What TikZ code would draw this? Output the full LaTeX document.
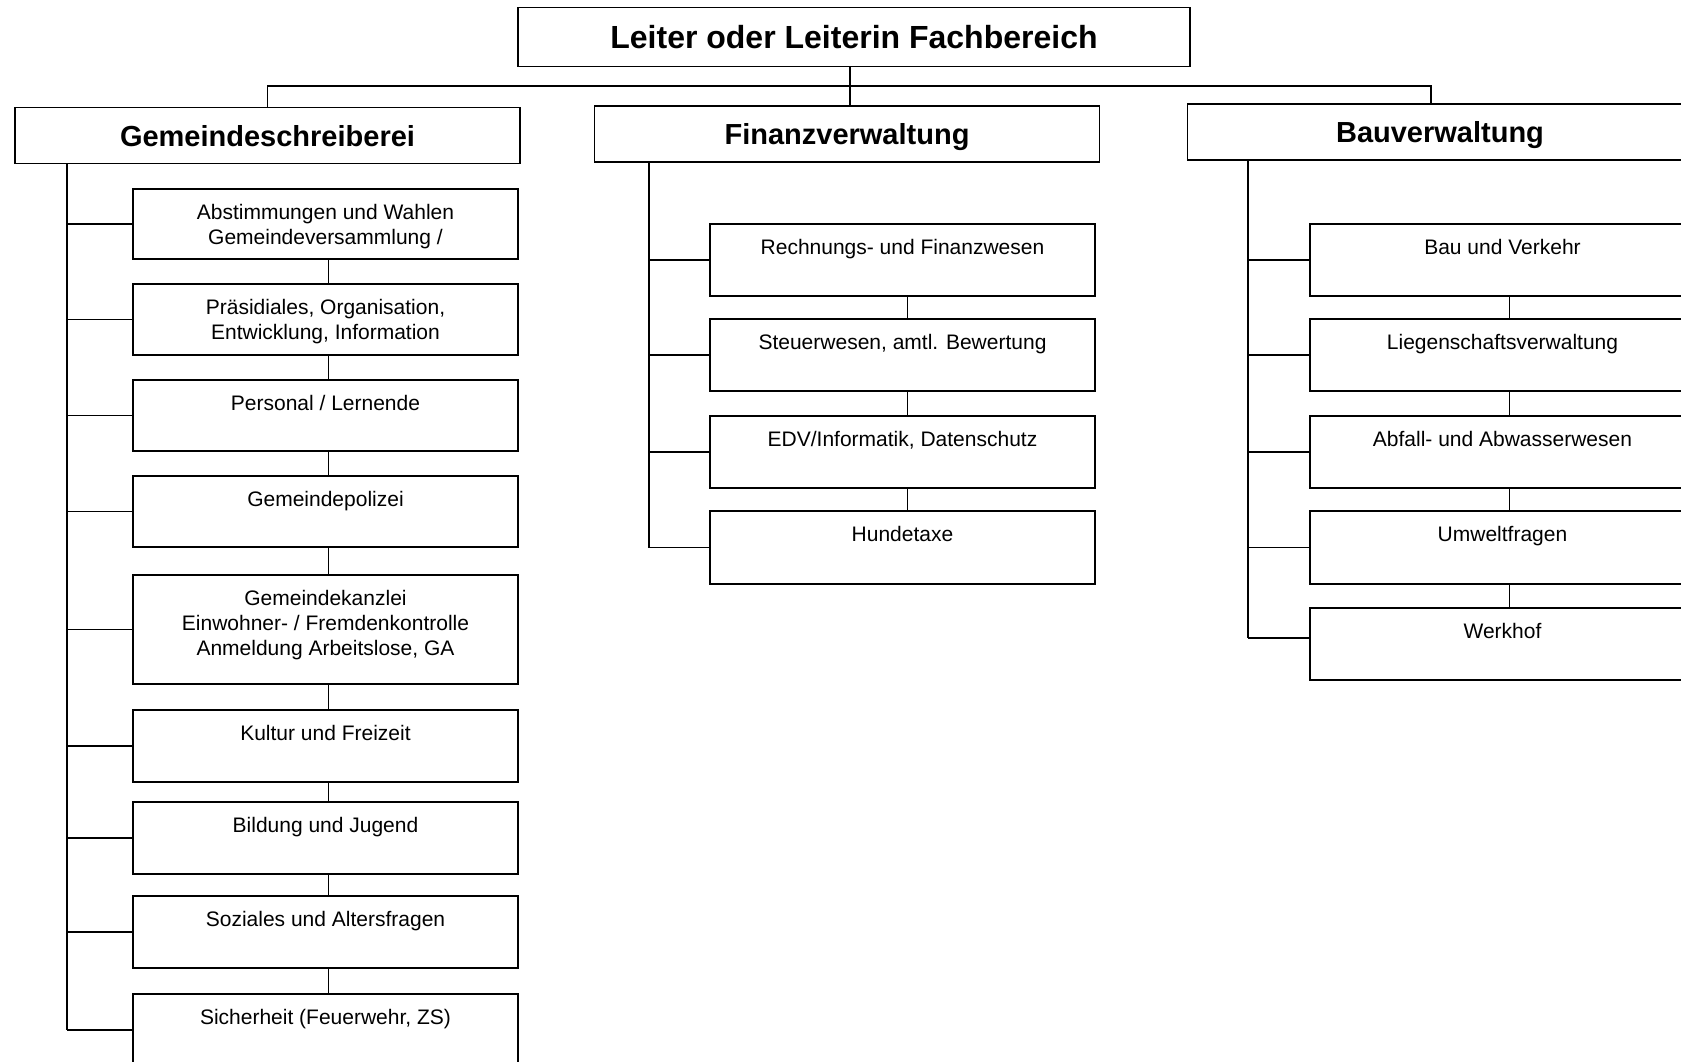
\documentclass[tikz,border=0pt]{standalone}
\usepackage{fontspec}
\setmainfont{Liberation Sans}
\tikzset{
  topbox/.style={draw, inner sep=0pt, minimum width=672pt, minimum height=59pt, font=\fontsize{32}{38}\selectfont\bfseries},
  hdbox/.style={draw, inner sep=0pt, minimum width=505pt, minimum height=56pt, text height=21pt, text depth=0pt, font=\fontsize{29}{34}\selectfont\bfseries},
  subbox/.style={draw, inner sep=0pt, minimum width=385pt},
  subtext/.style={anchor=north, inner sep=0pt, align=center, font=\fontsize{21}{25}\selectfont},
  conn/.style={draw}
}
\newcommand\orgsub[5]{%
  \node[subbox, minimum height=#4] (#1) at (#2,{#3+#4/2}) {};
  \node[subtext] (#1t) at ([yshift=-15pt]#1.north) {#5};}
\begin{document}
\begin{tikzpicture}[x=1pt,y=-1pt,line width=1.8pt]
\useasboundingbox (0,0) rectangle (1681,1061);
\clip (0,0) rectangle (1681,1061);
\fill[white] (0,0) rectangle (1681,1061);

% top level
\node[topbox] (top) at (854,37) {Leiter oder Leiterin Fachbereich};
\node[hdbox] (gs) at (267.5,135.5) {Gemeindeschreiberei};
\node[hdbox] (fv) at (847,134) {Finanzverwaltung};
\node[hdbox] (bv) at (1440,132) {Bauverwaltung};

\coordinate (barL) at (267.5,86);
\coordinate (barR) at (1431,86);
\draw[conn] (gs.north) -- (barL) -- (barR) -- (barR |- bv.north);
\draw[conn] ([xshift=3pt]fv.north |- top.south) -- ([xshift=3pt]fv.north);

% Gemeindeschreiberei column
\orgsub{g1}{325.5}{189}{70}{Abstimmungen und Wahlen\\Gemeindeversammlung /}
\orgsub{g2}{325.5}{284}{71}{Präsidiales, Organisation,\\Entwicklung, Information}
\orgsub{g3}{325.5}{380}{71}{Personal / Lernende}
\orgsub{g4}{325.5}{476}{71}{Gemeindepolizei}
\orgsub{g5}{325.5}{575}{109}{Gemeindekanzlei\\Einwohner- / Fremdenkontrolle\\Anmeldung Arbeitslose, GA}
\orgsub{g6}{325.5}{710}{72}{Kultur und Freizeit}
\orgsub{g7}{325.5}{802}{72}{Bildung und Jugend}
\orgsub{g8}{325.5}{896}{72}{Soziales und Altersfragen}
\orgsub{g9}{325.5}{994}{72}{Sicherheit (Feuerwehr, ZS)}

% Finanzverwaltung column
\orgsub{f1}{902.5}{224}{72}{Rechnungs- und Finanzwesen}
\orgsub{f2}{902.5}{319}{72}{Steuerwesen, amtl. Bewertung}
\orgsub{f3}{902.5}{416}{72}{EDV/Informatik, Datenschutz}
\orgsub{f4}{902.5}{511}{73}{Hundetaxe}

% Bauverwaltung column
\orgsub{b1}{1502.5}{224}{72}{Bau und Verkehr}
\orgsub{b2}{1502.5}{319}{72}{Liegenschaftsverwaltung}
\orgsub{b3}{1502.5}{416}{72}{Abfall- und Abwasserwesen}
\orgsub{b4}{1502.5}{511}{73}{Umweltfragen}
\orgsub{b5}{1502.5}{608}{72}{Werkhof}

% chains
\foreach \a/\b in {g1/g2,g2/g3,g3/g4,g4/g5,g5/g6,g6/g7,g7/g8,g8/g9}
  \draw[conn] ([xshift=3pt]\a.south) -- ([xshift=3pt]\b.north);
\foreach \a/\b in {f1/f2,f2/f3,f3/f4}
  \draw[conn] ([xshift=5pt]\a.south) -- ([xshift=5pt]\b.north);
\foreach \a/\b in {b1/b2,b2/b3,b3/b4,b4/b5}
  \draw[conn] ([xshift=7pt]\a.south) -- ([xshift=7pt]\b.north);

% spines
\coordinate (gsp) at ([xshift=52.5pt]gs.south west);
\coordinate (fsp) at ([xshift=55pt]fv.south west);
\coordinate (bsp) at ([xshift=61pt]bv.south west);
\coordinate (b5c) at ([yshift=6pt]b5.west);
\draw[conn] (gsp) -- (gsp |- g9.west);
\draw[conn] (fsp) -- (fsp |- f4.west);
\draw[conn] (bsp) -- (bsp |- b5c);
\foreach \n in {g1,g2,g3,g4,g5,g6,g7,g8,g9}
  \draw[conn] (gsp |- \n.west) -- (\n.west);
\foreach \n in {f1,f2,f3,f4}
  \draw[conn] (fsp |- \n.west) -- (\n.west);
\foreach \n in {b1,b2,b3,b4}
  \draw[conn] (bsp |- \n.west) -- (\n.west);
\draw[conn] (bsp |- b5c) -- (b5c);
\end{tikzpicture}
\end{document}
